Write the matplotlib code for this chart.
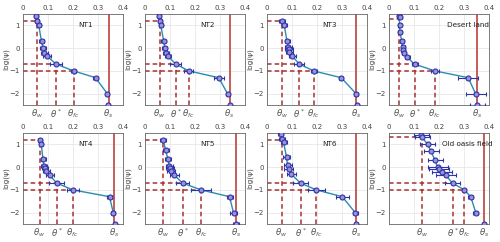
import numpy as np
import matplotlib
matplotlib.use("Agg")
import matplotlib.pyplot as plt
from matplotlib.transforms import blended_transform_factory

# ---------------- data ----------------
titles = ["NT1", "NT2", "NT3", "Desert land", "NT4", "NT5", "NT6", "Old oasis field"]

nt1_psi = [1.41, 1.18, 1.0, 0.3, 0.0, -0.2, -0.35, -0.7, -1.0, -1.3, -2.0, -2.5]
nt1_theta = [0.050, 0.057, 0.063, 0.074, 0.080, 0.085, 0.096, 0.132, 0.202, 0.290, 0.337, 0.339]
nt1_err = [0.008, 0.008, 0.008, 0.010, 0.012, 0.014, 0.015, 0.025, 0.010, 0.010, 0.006, 0.004]

nt2_psi = [1.41, 1.18, 1.0, 0.3, 0.0, -0.2, -0.35, -0.7, -1.0, -1.3, -2.0, -2.5]
nt2_theta = [0.056, 0.058, 0.063, 0.075, 0.079, 0.083, 0.092, 0.123, 0.175, 0.295, 0.330, 0.338]
nt2_err = [0.008, 0.008, 0.008, 0.010, 0.010, 0.012, 0.012, 0.022, 0.018, 0.020, 0.006, 0.004]

nt3_psi = [1.18, 1.0, 0.3, 0.05, -0.05, -0.15, -0.35, -0.7, -1.0, -1.3, -2.0, -2.5]
nt3_theta = [0.061, 0.069, 0.080, 0.085, 0.087, 0.089, 0.101, 0.129, 0.186, 0.297, 0.356, 0.358]
nt3_err = [0.012, 0.010, 0.010, 0.015, 0.015, 0.015, 0.015, 0.020, 0.012, 0.008, 0.008, 0.004]

des_psi = [1.42, 1.35, 1.0, 0.7, 0.3, 0.05, -0.1, -0.2, -0.4, -0.7, -1.0, -1.3, -2.0, -2.5]
des_theta = [0.038, 0.042, 0.042, 0.044, 0.051, 0.054, 0.055, 0.058, 0.072, 0.102, 0.183, 0.317, 0.346, 0.353]
des_err = [0.008, 0.008, 0.006, 0.008, 0.008, 0.008, 0.008, 0.008, 0.010, 0.012, 0.015, 0.040, 0.040, 0.030]

nt4_psi = [1.18, 1.0, 0.35, 0.05, -0.05, -0.15, -0.35, -0.7, -1.0, -1.3, -2.0, -2.5]
nt4_theta = [0.066, 0.073, 0.080, 0.083, 0.089, 0.092, 0.106, 0.135, 0.199, 0.346, 0.361, 0.367]
nt4_err = [0.008, 0.006, 0.010, 0.012, 0.012, 0.014, 0.016, 0.030, 0.025, 0.010, 0.008, 0.004]

nt5_psi = [1.2, 0.75, 0.35, 0.05, -0.05, -0.15, -0.35, -0.7, -1.0, -1.3, -2.0, -2.5]
nt5_theta = [0.073, 0.082, 0.092, 0.097, 0.101, 0.104, 0.117, 0.150, 0.224, 0.338, 0.354, 0.363]
nt5_err = [0.012, 0.012, 0.012, 0.014, 0.016, 0.016, 0.018, 0.025, 0.040, 0.012, 0.015, 0.012]

nt6_psi = [1.45, 1.25, 1.1, 0.45, 0.1, -0.1, -0.3, -0.7, -1.0, -1.3, -2.0, -2.5]
nt6_theta = [0.055, 0.058, 0.066, 0.078, 0.082, 0.086, 0.096, 0.134, 0.197, 0.301, 0.353, 0.355]
nt6_err = [0.010, 0.012, 0.012, 0.014, 0.016, 0.018, 0.018, 0.030, 0.035, 0.025, 0.010, 0.004]

old_psi = [1.4, 1.33, 1.0, 0.7, 0.3, 0.0, -0.1, -0.2, -0.35, -0.7, -1.0, -1.3, -2.0, -2.5]
old_theta = [0.128, 0.132, 0.154, 0.168, 0.184, 0.194, 0.201, 0.210, 0.226, 0.254, 0.301, 0.327, 0.347, 0.379]
old_err = [0.030, 0.030, 0.030, 0.030, 0.030, 0.040, 0.040, 0.040, 0.040, 0.030, 0.005, 0.010, 0.010, 0.004]

# characteristic water contents: theta_w, theta*, theta_fc, theta_s
theta_w = [0.057, 0.058, 0.059, 0.040, 0.066, 0.073, 0.058, 0.133]
theta_star = [0.132, 0.123, 0.129, 0.102, 0.135, 0.150, 0.134, 0.254]
theta_fc = [0.202, 0.175, 0.186, 0.183, 0.199, 0.224, 0.197, 0.300]
theta_s = [0.342, 0.338, 0.356, 0.353, 0.365, 0.363, 0.355, 0.379]
# log(psi) levels of the horizontal guides
level_w = [1.18, 1.18, 1.18, 1.30, 1.19, 1.20, 1.20, 1.33]
level_star = [-0.7] * 8
level_fc = [-1.0] * 8

theta_labels = [r"$\theta_w$", r"$\theta^*$", r"$\theta_{fc}$", r"$\theta_s$"]
xticks = [0, 0.1, 0.2, 0.3, 0.4]
xticklabels = ["0", "0.1", "0.2", "0.3", "0.4"]
yticks = [-2, -1, 0, 1]

all_psi = [nt1_psi, nt2_psi, nt3_psi, des_psi, nt4_psi, nt5_psi, nt6_psi, old_psi]
all_theta = [nt1_theta, nt2_theta, nt3_theta, des_theta, nt4_theta, nt5_theta, nt6_theta, old_theta]
all_err = [nt1_err, nt2_err, nt3_err, des_err, nt4_err, nt5_err, nt6_err, old_err]

# ---------------- figure ----------------
fig = plt.figure(figsize=(5.0, 2.42), dpi=100)
W, H = 500.0, 242.0
lefts = [23, 145, 267, 389]
tops = [14, 133]
aw, ah = 100, 91

red_d = "#a83232"
red_s = "#c0504d"
blue = "#2b35a8"
teal = "#2a8caf"
face = "#9f8fd6"
txtc = "#444444"

for i in range(8):
    r, c = divmod(i, 4)
    x0 = lefts[c]
    y0 = tops[r]
    ax = fig.add_axes([x0 / W, 1 - (y0 + ah) / H, aw / W, ah / H])
    ax.set_xlim(0, 0.4)
    ax.set_ylim(-2.5, 1.5)
    psi = np.array(all_psi[i]); th = np.array(all_theta[i]); er = np.array(all_err[i])

    # guides
    for tv, lv in [(theta_w[i], level_w[i]), (theta_star[i], level_star[i]), (theta_fc[i], level_fc[i])]:
        ax.plot([0, tv], [lv, lv], ls=(0, (3, 2)), color=red_d, lw=1.1, zorder=2)
        ax.plot([tv, tv], [-2.5, lv], ls=(0, (3, 2)), color=red_d, lw=1.1, zorder=2)
    ax.axvline(theta_s[i], color=red_s, lw=1.3, zorder=2)

    ax.plot(th[:-1], psi[:-1], color=teal, lw=1.0, zorder=3)
    ax.errorbar(th, psi, xerr=er, fmt="o", ms=3.6, mfc=face, mec=blue, mew=0.8,
                ecolor=blue, elinewidth=0.8, capsize=1.2, capthick=0.8, zorder=4)

    ax.text(0.25 if i not in (3, 7) else 0.315, 1.0, titles[i], fontsize=5.2,
            color="#222222", ha="center", va="center")

    ax.xaxis.tick_top()
    ax.set_xticks(xticks)
    ax.set_xticklabels(xticklabels)
    ax.set_yticks(yticks)
    ax.tick_params(labelsize=5, colors=txtc, length=0, pad=2.5)
    ax.grid(True, color="#e3e3e3", lw=0.5)
    ax.set_axisbelow(True)
    for s in ax.spines.values():
        s.set_color("#666666")
        s.set_linewidth(0.6)
    ax.set_ylabel("log(ψ)", fontsize=5.3, color=txtc)
    ax.yaxis.set_label_coords(-0.135, 0.5)

    trans = blended_transform_factory(ax.transData, ax.transAxes)
    for tv, lab in zip([theta_w[i], theta_star[i], theta_fc[i], theta_s[i]], theta_labels):
        ax.text(tv, -0.03, lab, transform=trans, ha="center", va="top",
                fontsize=6.2, color="#555555")

fig.savefig("out.png", dpi=100)
